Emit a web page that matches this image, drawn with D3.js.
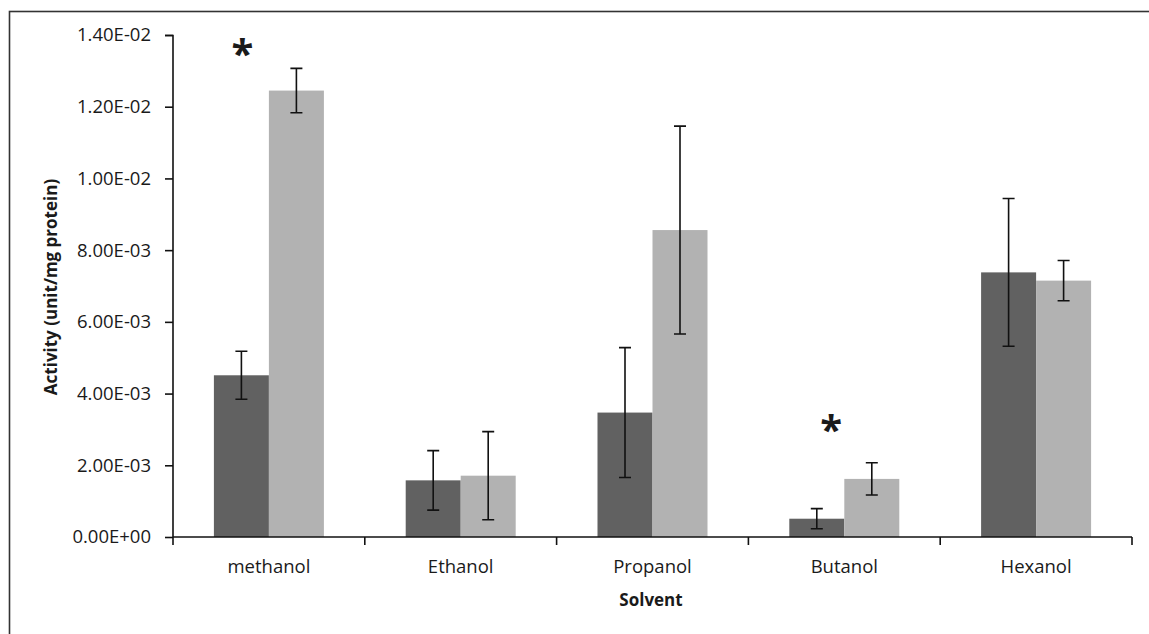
<!DOCTYPE html>
<html>
<head>
<meta charset="utf-8">
<script src="https://cdn.jsdelivr.net/npm/d3@7"></script>
<style>
  html, body { margin: 0; padding: 0; background: #fff; }
  svg { display: block; }
  text { font-family: "Open Sans", "DejaVu Sans", sans-serif; fill: #1a1a1a; }
</style>
</head>
<body>
<svg id="chart" width="1149" height="634"></svg>
<script>
// Solvent categories and the two measured series (unit/mg protein)
const solvents = ["methanol", "Ethanol", "Propanol", "Butanol", "Hexanol"];
const seriesKeys = ["groupA", "groupB"];
const groupA = [0.00451, 0.00158, 0.00347, 0.00051, 0.00738];
const groupAErr = [0.00067, 0.00083, 0.00181, 0.00028, 0.00206];
const groupB = [0.01245, 0.00171, 0.00856, 0.00162, 0.00715];
const groupBErr = [0.00062, 0.00123, 0.00290, 0.00045, 0.00056];
const yTicks = [0, 0.002, 0.004, 0.006, 0.008, 0.010, 0.012, 0.014];
// significance markers: solvent, height in data units, position across the bar pair
const markers = [
  { solvent: "methanol", value: 0.01360, pos: 0.26 },
  { solvent: "Butanol", value: 0.00312, pos: 0.38 }
];

const svg = d3.select("#chart");
const margin = { left: 173, right: 17, top: 35, bottom: 97 };
const W = 1149, H = 634;
const innerW = W - margin.left - margin.right;
const innerH = H - margin.top - margin.bottom;

// outer chart frame (runs past the right and bottom edges)
svg.append("rect")
  .attr("x", 9.5).attr("y", 11.5)
  .attr("width", 1200).attr("height", 700)
  .attr("fill", "none").attr("stroke", "#333").attr("stroke-width", 1.6);

const g = svg.append("g").attr("transform", `translate(${margin.left},${margin.top})`);

const x0 = d3.scaleBand().domain(solvents).range([0, innerW])
  .paddingInner(0.4265).paddingOuter(0.21325);
const x1 = d3.scaleBand().domain(seriesKeys).range([0, x0.bandwidth()]);
const y = d3.scaleLinear().domain([0, 0.014]).range([innerH, 0]);

const fmtSci = v => {
  const [m, e] = d3.format(".2e")(v).split("e");
  const n = +e;
  return m + "E" + (n < 0 ? "-" : "+") + String(Math.abs(n)).padStart(2, "0");
};

const rows = solvents.map((s, i) => ({
  solvent: s,
  values: [
    { key: "groupA", v: groupA[i], err: groupAErr[i] },
    { key: "groupB", v: groupB[i], err: groupBErr[i] }
  ]
}));
const colors = { groupA: "#616161", groupB: "#b2b2b2" };

// bars
const groups = g.selectAll(".grp").data(rows).join("g")
  .attr("class", "grp")
  .attr("transform", d => `translate(${x0(d.solvent)},0)`);

groups.selectAll("rect").data(d => d.values).join("rect")
  .attr("x", d => x1(d.key))
  .attr("width", x1.bandwidth())
  .attr("y", d => y(d.v))
  .attr("height", d => y(0) - y(d.v))
  .attr("fill", d => colors[d.key]);

// error bars
const cap = 6;
groups.selectAll(".err").data(d => d.values).join("path")
  .attr("class", "err")
  .attr("d", d => {
    const cx = x1(d.key) + x1.bandwidth() / 2;
    const t = y(d.v + d.err), b = y(d.v - d.err);
    return `M${cx},${t}V${b}M${cx - cap},${t}H${cx + cap}M${cx - cap},${b}H${cx + cap}`;
  })
  .attr("fill", "none").attr("stroke", "#111").attr("stroke-width", 1.6);

// y axis
const yAxis = g.append("g")
  .call(d3.axisLeft(y).tickValues(yTicks).tickFormat(fmtSci).tickSize(8).tickPadding(14));
yAxis.select(".domain").attr("stroke", "#111").attr("stroke-width", 1.6).attr("d", `M-8,0.5H0V${innerH}`);
yAxis.selectAll(".tick line").attr("stroke", "#111").attr("stroke-width", 1.6);
yAxis.selectAll(".tick text").style("font-size", "18.5px").attr("fill", "#1a1a1a");

// x axis with ticks between categories
const xAxis = g.append("g").attr("transform", `translate(0,${innerH})`);
xAxis.append("line").attr("x1", 0).attr("x2", innerW).attr("y1", 0).attr("y2", 0)
  .attr("stroke", "#111").attr("stroke-width", 1.6);
const step = x0.step();
xAxis.selectAll(".xt").data(d3.range(solvents.length + 1)).join("line")
  .attr("class", "xt")
  .attr("x1", i => i * step).attr("x2", i => i * step)
  .attr("y1", 0).attr("y2", 8)
  .attr("stroke", "#111").attr("stroke-width", 1.6);
xAxis.selectAll(".xl").data(solvents).join("text")
  .attr("class", "xl")
  .attr("x", d => x0(d) + x0.bandwidth() / 2)
  .attr("y", 36)
  .attr("text-anchor", "middle")
  .style("font-size", "18.5px")
  .text(d => d);

// axis titles
svg.append("text")
  .attr("x", 651).attr("y", 606)
  .attr("text-anchor", "middle")
  .style("font-size", "17px").style("font-weight", "bold")
  .text("Solvent");
svg.append("text")
  .attr("transform", "translate(57,287) rotate(-90)")
  .attr("text-anchor", "middle")
  .style("font-size", "17px").style("font-weight", "bold")
  .text("Activity (unit/mg protein)");

// significance asterisks
g.selectAll(".sig").data(markers).join("text")
  .attr("class", "sig")
  .attr("x", d => x0(d.solvent) + x0.bandwidth() * d.pos)
  .attr("y", d => y(d.value) + 19)
  .attr("text-anchor", "middle")
  .style("font-size", "40px").style("font-weight", "bold")
  .attr("fill", "#111")
  .text("*");
</script>
</body>
</html>
